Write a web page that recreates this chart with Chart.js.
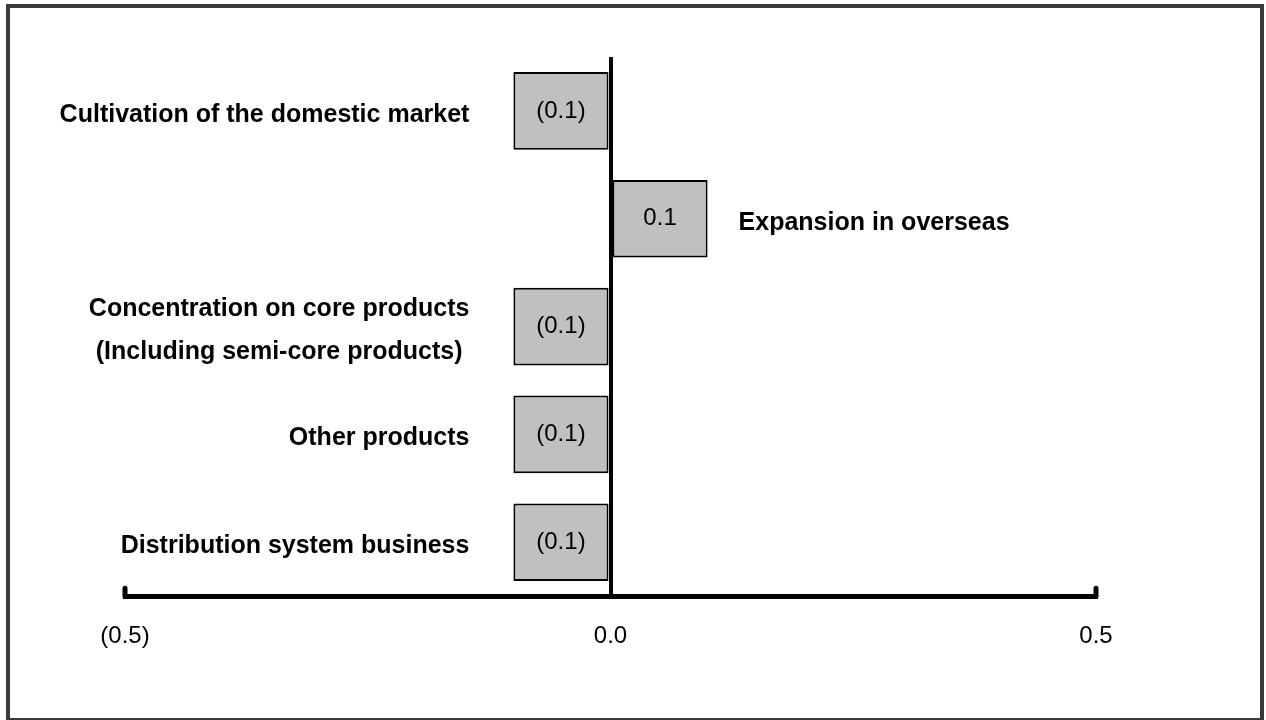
<!DOCTYPE html>
<html lang="en">
<head>
    <meta charset="UTF-8">
    <script src="https://cdn.jsdelivr.net/npm/chart.js@4/dist/chart.umd.min.js"></script>
    <style>
        body{
            margin: 0;
            padding: 0;
            background-color: white;
        }
        .frame{
            position: absolute;
            left: 6px;
            top: 4px;
            border: 4px solid #3a3a3a;
            box-sizing: border-box;
            width: 1258px;
            height: 718px;
        }
        canvas{
            position: absolute;
            left: 0;
            top: 0;
        }
    </style>
    <title>chart</title>
</head>
<body>
    <div class="frame"></div>
    <canvas id="mychart" width="1266" height="720"></canvas>
    <script>
        const categories = [
            ['Cultivation of the domestic market'],
            ['Expansion in overseas'],
            ['Concentration on core products', '(Including semi-core products)'],
            ['Other products'],
            ['Distribution system business']
        ];
        const values = [-0.1, 0.1, -0.1, -0.1, -0.1];
        const tickValues = [-0.5, 0, 0.5];

        function fmt(v){
            if (v < 0) return '(' + Math.abs(v).toFixed(1) + ')';
            return v.toFixed(1);
        }

        const labelFont = 'bold 25px "Liberation Sans Narrow", "Liberation Sans", sans-serif';
        const numFont = '24px "Liberation Sans Narrow", "Liberation Sans", sans-serif';

        // category names beside the bars, values inside them, caps on the axis ends
        const sideLabels = {
            id: 'sideLabels',
            afterDatasetsDraw(chart){
                const ctx = chart.ctx;
                const meta = chart.getDatasetMeta(0);
                ctx.save();
                meta.data.forEach(function(bar, i){
                    const v = values[i];
                    ctx.fillStyle = 'black';
                    ctx.font = numFont;
                    ctx.textAlign = 'center';
                    ctx.textBaseline = 'middle';
                    ctx.fillText(fmt(v), (bar.x + bar.base) / 2, bar.y);

                    const lines = categories[i];
                    ctx.font = labelFont;
                    const lh = 43;
                    let widest = 0;
                    lines.forEach(function(l){ widest = Math.max(widest, ctx.measureText(l).width); });
                    lines.forEach(function(l, k){
                        const y = bar.y + 4 + (k - (lines.length - 1) / 2) * lh;
                        if (v < 0) {
                            ctx.textAlign = 'center';
                            ctx.fillText(l, bar.x - 44 - widest / 2, y);
                        } else {
                            ctx.textAlign = 'left';
                            ctx.fillText(l, bar.x + 31, y);
                        }
                    });
                });
                const xs = chart.scales.x;
                const yb = chart.chartArea.bottom;
                ctx.strokeStyle = 'black';
                ctx.lineWidth = 5;
                ctx.lineCap = 'round';
                [xs.min, xs.max].forEach(function(t){
                    const px = xs.getPixelForValue(t);
                    ctx.beginPath();
                    ctx.moveTo(px, yb);
                    ctx.lineTo(px, yb - 8);
                    ctx.stroke();
                });
                ctx.restore();
            }
        };

        const mychart = document.getElementById('mychart').getContext('2d');
        const barchart = new Chart(mychart, {
            type: 'bar',
            data: {
                labels: categories,
                datasets: [{
                    data: values,
                    backgroundColor: '#c0c0c0',
                    borderColor: 'black',
                    borderWidth: 2,
                    borderSkipped: false,
                    categoryPercentage: 0.72,
                    barPercentage: 1
                }]
            },
            plugins: [sideLabels],
            options: {
                indexAxis: 'y',
                responsive: false,
                animation: false,
                layout: {
                    padding: {left: 125, right: 170, top: 57, bottom: 43}
                },
                plugins: {
                    legend: {display: false},
                    tooltip: {enabled: false}
                },
                scales: {
                    x: {
                        min: -0.5,
                        max: 0.5,
                        afterBuildTicks: function(axis){
                            axis.ticks = tickValues.map(function(v){ return {value: v}; });
                        },
                        border: {display: true, color: 'black', width: 5},
                        grid: {
                            drawTicks: false,
                            lineWidth: 4,
                            color: function(c){ return c.tick && c.tick.value === 0 ? 'black' : 'rgba(0,0,0,0)'; }
                        },
                        ticks: {
                            padding: 26,
                            color: 'black',
                            maxRotation: 0,
                            font: {family: '"Liberation Sans Narrow", "Liberation Sans", sans-serif', size: 24},
                            callback: function(v){ return fmt(v); }
                        }
                    },
                    y: {
                        display: false
                    }
                }
            }
        });
    </script>
</body>
</html>
